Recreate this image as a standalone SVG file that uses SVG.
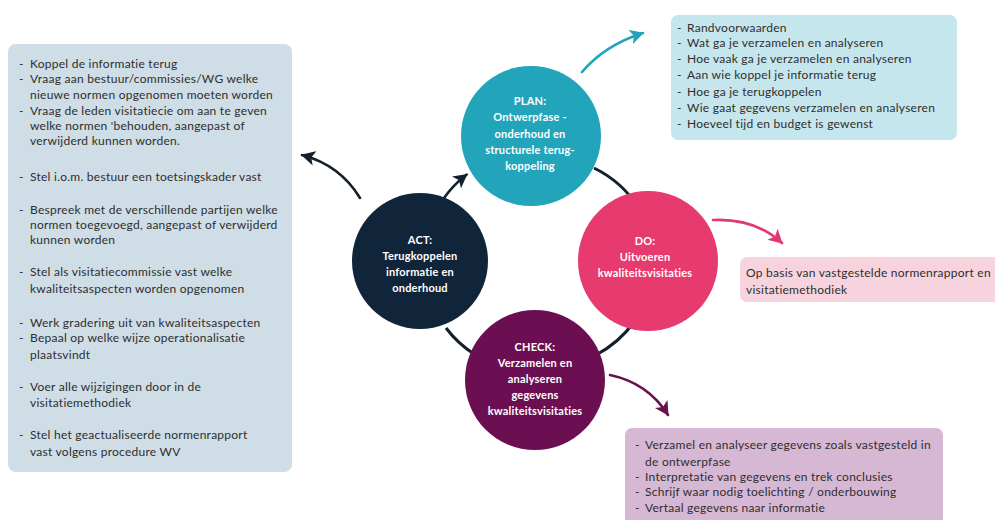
<svg xmlns="http://www.w3.org/2000/svg" width="995" height="520" viewBox="0 0 995 520">
<style>
.box text{font-family:Lato,"Open Sans","Liberation Sans",sans-serif;font-size:12px;letter-spacing:0.25px;fill:#2e2e2e}
.node text{font-family:Lato,"Open Sans","Liberation Sans",sans-serif;font-size:11px;letter-spacing:0.2px;font-weight:bold;fill:#ffffff;text-anchor:middle}
.conn{fill:none;stroke-width:2.6;stroke-linecap:round}
</style>
<defs>
<marker id="ahDark" markerUnits="userSpaceOnUse" markerWidth="15" markerHeight="15" refX="13" refY="7.5" orient="auto"><path d="M0,0 L14,7.5 L0,15 L3.5,7.5 Z" fill="#14202e"/></marker>
<marker id="ahTeal" markerUnits="userSpaceOnUse" markerWidth="15" markerHeight="15" refX="13" refY="7.5" orient="auto"><path d="M0,0 L14,7.5 L0,15 L3.5,7.5 Z" fill="#22a5ba"/></marker>
<marker id="ahPink" markerUnits="userSpaceOnUse" markerWidth="15" markerHeight="15" refX="13" refY="7.5" orient="auto"><path d="M0,0 L14,7.5 L0,15 L3.5,7.5 Z" fill="#e23a6e"/></marker>
<marker id="ahPlum" markerUnits="userSpaceOnUse" markerWidth="15" markerHeight="15" refX="13" refY="7.5" orient="auto"><path d="M0,0 L14,7.5 L0,15 L3.5,7.5 Z" fill="#6a124f"/></marker>
</defs>
<rect width="995" height="520" fill="#ffffff"/>

<g id="connectors">
<path d="M594,168 A111,111 0 0 1 640,210" fill="none" stroke="#14202e" stroke-width="3"/>
<path d="M634,322 A111,111 0 0 1 596,355" fill="none" stroke="#14202e" stroke-width="3"/>
<path d="M474,354 A111,111 0 0 1 446,328" fill="none" stroke="#14202e" stroke-width="3"/>
<path class="conn" d="M444,198 A111,111 0 0 1 466.7,174.5" stroke="#14202e" stroke-width="3" marker-end="url(#ahDark)"/>
<path class="conn" d="M582,72 Q605,45 643,33" stroke="#22a5ba" marker-end="url(#ahTeal)"/>
<path class="conn" d="M713,220 Q755,218 782,243" stroke="#e23a6e" marker-end="url(#ahPink)"/>
<path class="conn" d="M360,198 Q340,165 302,155" stroke="#14202e" marker-end="url(#ahDark)"/>
<path class="conn" d="M610,375 Q648,383 668,415" stroke="#6a124f" marker-end="url(#ahPlum)"/>
</g>

<g id="plan" class="node">
<circle cx="531" cy="136" r="70" fill="#22a5ba"/>
<text x="530" y="105">PLAN:</text>
<text x="530" y="121">Ontwerpfase -</text>
<text x="530" y="138">onderhoud en</text>
<text x="530" y="154">structurele terug-</text>
<text x="530" y="170">koppeling</text>
</g>

<g id="do" class="node">
<circle cx="648" cy="261" r="70" fill="#e73a6f"/>
<text x="645" y="245">DO:</text>
<text x="645" y="261">Uitvoeren</text>
<text x="645" y="277">kwaliteitsvisitaties</text>
</g>

<g id="act" class="node">
<circle cx="420" cy="261" r="68" fill="#10253a"/>
<text x="420" y="244">ACT:</text>
<text x="420" y="260">Terugkoppelen</text>
<text x="420" y="276">informatie en</text>
<text x="420" y="292">onderhoud</text>
</g>

<g id="check" class="node">
<circle cx="535" cy="380" r="70" fill="#6c0f52"/>
<text x="535" y="351">CHECK:</text>
<text x="535" y="367">Verzamelen en</text>
<text x="535" y="383">analyseren</text>
<text x="535" y="399">gegevens</text>
<text x="535" y="415">kwaliteitsvisitaties</text>
</g>

<g id="act-box" class="box">
<rect x="8" y="44" width="284" height="428" rx="8" fill="#cfdde6"/>
<text x="19" y="68">-</text><text x="30" y="68">Koppel de informatie terug</text>
<text x="19" y="83">-</text><text x="30" y="83">Vraag aan bestuur/commissies/WG welke</text>
<text x="30" y="99">nieuwe normen opgenomen moeten worden</text>
<text x="19" y="115">-</text><text x="30" y="115">Vraag de leden visitatiecie om aan te geven</text>
<text x="30" y="130">welke normen 'behouden, aangepast of</text>
<text x="30" y="145">verwijderd kunnen worden.</text>
<text x="19" y="181">-</text><text x="30" y="181">Stel i.o.m. bestuur een toetsingskader vast</text>
<text x="19" y="214">-</text><text x="30" y="214">Bespreek met de verschillende partijen welke</text>
<text x="30" y="229">normen toegevoegd, aangepast of verwijderd</text>
<text x="30" y="244">kunnen worden</text>
<text x="19" y="276">-</text><text x="30" y="276">Stel als visitatiecommissie vast welke</text>
<text x="30" y="293">kwaliteitsaspecten worden opgenomen</text>
<text x="19" y="327">-</text><text x="30" y="327">Werk gradering uit van kwaliteitsaspecten</text>
<text x="19" y="342">-</text><text x="30" y="342">Bepaal op welke wijze operationalisatie</text>
<text x="30" y="359">plaatsvindt</text>
<text x="19" y="391">-</text><text x="30" y="391">Voer alle wijzigingen door in de</text>
<text x="30" y="407">visitatiemethodiek</text>
<text x="19" y="439">-</text><text x="30" y="439">Stel het geactualiseerde normenrapport</text>
<text x="30" y="456">vast volgens procedure WV</text>
</g>

<g id="plan-box" class="box">
<rect x="671" y="15" width="286" height="125" rx="7" fill="#c6e6ed"/>
<text x="677" y="32">-</text><text x="687" y="32">Randvoorwaarden</text>
<text x="677" y="47">-</text><text x="687" y="47">Wat ga je verzamelen en analyseren</text>
<text x="677" y="63">-</text><text x="687" y="63">Hoe vaak ga je verzamelen en analyseren</text>
<text x="677" y="79">-</text><text x="687" y="79">Aan wie koppel je informatie terug</text>
<text x="677" y="96">-</text><text x="687" y="96">Hoe ga je terugkoppelen</text>
<text x="677" y="112">-</text><text x="687" y="112">Wie gaat gegevens verzamelen en analyseren</text>
<text x="677" y="128">-</text><text x="687" y="128">Hoeveel tijd en budget is gewenst</text>
</g>

<g id="do-box" class="box">
<rect x="740" y="257" width="270" height="45" rx="7" fill="#f7d4dd"/>
<text x="746" y="277">Op basis van vastgestelde normenrapport en</text>
<text x="746" y="294">visitatiemethodiek</text>
</g>

<g id="check-box" class="box">
<rect x="625" y="428" width="318" height="105" rx="7" fill="#d6b8d4"/>
<text x="635" y="449">-</text><text x="645" y="449">Verzamel en analyseer gegevens zoals vastgesteld in</text>
<text x="645" y="466">de ontwerpfase</text>
<text x="635" y="481">-</text><text x="645" y="481">Interpretatie van gegevens en trek conclusies</text>
<text x="635" y="496">-</text><text x="645" y="496">Schrijf waar nodig toelichting / onderbouwing</text>
<text x="635" y="512">-</text><text x="645" y="512">Vertaal gegevens naar informatie</text>
</g>
</svg>
